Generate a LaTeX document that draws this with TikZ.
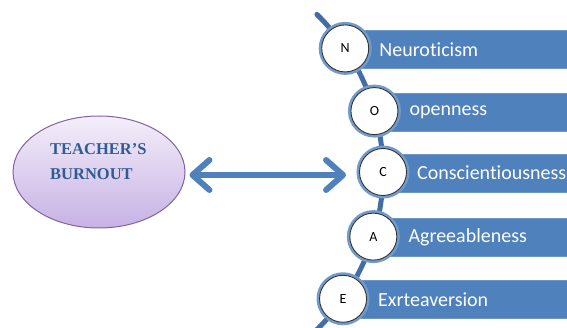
\documentclass[tikz,border=0pt]{standalone}
\usepackage{fontspec}
\setmainfont[Ligatures=NoCommon]{Carlito}
\newfontfamily\titlefont{Liberation Serif}
\usetikzlibrary{arrows.meta,calc,shapes.geometric}
\definecolor{barblue}{RGB}{79,129,189}
\definecolor{baredge}{RGB}{110,150,200}
\definecolor{arcblue}{RGB}{66,110,165}
\definecolor{titleblue}{RGB}{48,92,145}
\definecolor{ellborder}{RGB}{128,100,162}
\definecolor{elltop}{RGB}{244,238,250}
\definecolor{ellbot}{RGB}{198,178,228}
\tikzset{
  letter/.style={circle, draw=black!80, line width=0.9pt, fill=white, minimum size=47pt, inner sep=0pt,
    font=\fontsize{14}{14}\selectfont},
  halo/.style={draw=barblue!80, line width=3pt},
  barbox/.style={fill=barblue, draw=baredge, line width=0.8pt},
  bartext/.style={anchor=west, text=white, font=\fontsize{20}{20}\selectfont, inner sep=0pt},
  arcline/.style={draw=arcblue, line width=5pt},
  arr/.style={draw=barblue, line width=6pt, {Straight Barb[length=17pt,width=30pt,round]}-{Straight Barb[length=17pt,width=30pt,round]}},
}
\begin{document}
\begin{tikzpicture}
\useasboundingbox (0,0) rectangle (567pt,-328pt);
\clip (0,0) rectangle (567pt,-328pt);
% positions on the arc
\coordinate (cen) at (162pt,-172pt);
\coordinate (pN) at ($(cen)+(34:221pt)$);
\coordinate (pO) at ($(cen)+(16:221pt)$);
\coordinate (pC) at ($(cen)+(0:221pt)$);
\coordinate (pA) at ($(cen)+(-17:221pt)$);
\coordinate (pE) at ($(cen)+(-35:221pt)$);
% arc
\draw[arcline, line cap=round] ($(cen)+(45.5:221pt)$) arc (45.5:-47:221pt);
% bars
\foreach \p in {pN, pO, pC, pA, pE}{
  \draw[barbox] ($(\p)+(0,-20pt)$) rectangle ($(\p)+(240pt,18pt)$);
}
% circles
\foreach \p/\n/\l in {pN/N/N, pO/O/O, pC/C/C, pA/A/A, pE/E/E}{
  \draw[halo] (\p) circle (25pt);
  \node[letter] (\n) at (\p) {\l};
}
% labels
\node[bartext] (tN) at ($(N.center)+(34pt,-1pt)$) {Neuroticism};
\node[bartext] (tO) at ($(O.center)+(35pt,-1pt)$) {openness};
\node[bartext] (tC) at ($(C.center)+(34pt,-1pt)$) {Conscientiousness};
\node[bartext] (tA) at ($(A.center)+(35pt,-1pt)$) {Agreeableness};
\node[bartext] (tE) at ($(E.center)+(35pt,-1pt)$) {Exrteaversion};
% ellipse
\node[ellipse, minimum width=172pt, minimum height=112pt, draw=ellborder, line width=1pt,
  top color=elltop, bottom color=ellbot] (ell) at (99pt,-172pt) {};
\node[anchor=north west, align=left, text=titleblue, inner sep=0pt,
  font=\titlefont\bfseries\fontsize{16.5}{25}\selectfont] (title) at (50pt,-143pt) {TEACHER’S\\BURNOUT};
% arrow
\draw[arr, shorten <=4pt, shorten >=13pt] ([yshift=-3pt]ell.east) -- ([yshift=-3pt]C.west);
\end{tikzpicture}
\end{document}
